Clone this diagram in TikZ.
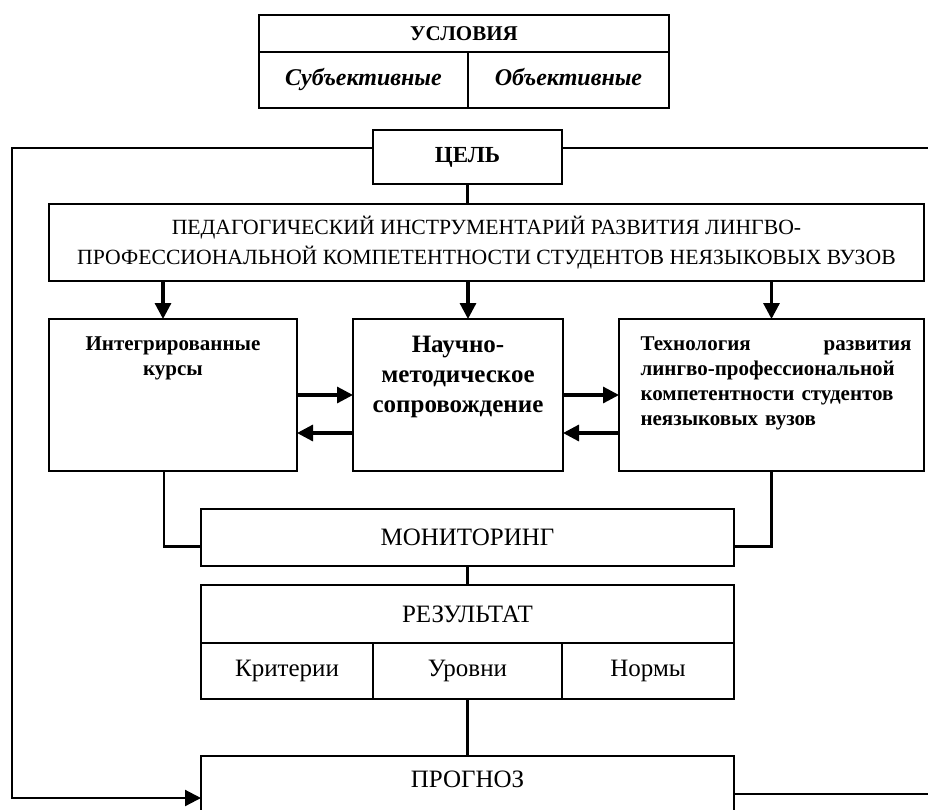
\documentclass[tikz,border=0pt]{standalone}
\usepackage{fontspec}
\setmainfont{Liberation Serif}
\usetikzlibrary{positioning, arrows.meta}

\begin{document}
\begin{tikzpicture}[x=1pt, y=-1pt, >={Triangle[length=16pt, width=16pt]}]
    \tikzstyle{block} = [draw, line width=2.6pt, inner sep=0pt, outer sep=0pt, anchor=north west]
    \tikzstyle{boldtext} = [font=\fontsize{21}{25}\selectfont\bfseries, align=center]
    \tikzstyle{slanttext} = [font=\fontsize{24}{25}\selectfont\bfseries\itshape, text height=17pt, text depth=6pt]
    \tikzstyle{normaltext} = [font=\fontsize{25}{30}\selectfont, align=center]
    \tikzstyle{link} = [draw, line width=2.2pt]
    \tikzstyle{flow} = [draw, ->, line width=3.2pt]
    \useasboundingbox (0,0) rectangle (928,809);

    % Conditions
    \node[block, boldtext, minimum width=410pt, minimum height=37pt] (cond) at (259,15) {УСЛОВИЯ};
    \node[block, slanttext, minimum width=209pt, minimum height=56pt] (subj) at (259,52) {Субъективные};
    \node[block, slanttext, minimum width=201pt, minimum height=56pt] (obj) at (468,52) {Объективные};

    % Goal and toolkit
    \node[block, boldtext, font=\fontsize{23}{25}\selectfont\bfseries, minimum width=189pt, minimum height=54pt] (goal) at (373,130) {ЦЕЛЬ};
    \node[block, normaltext, font=\fontsize{21.7}{30}\selectfont, minimum width=875pt, minimum height=77pt] (tool) at (49,204) {ПЕДАГОГИЧЕСКИЙ ИНСТРУМЕНТАРИЙ РАЗВИТИЯ ЛИНГВО-\\ПРОФЕССИОНАЛЬНОЙ КОМПЕТЕНТНОСТИ СТУДЕНТОВ НЕЯЗЫКОВЫХ ВУЗОВ};

    % Middle row
    \node[block, minimum width=248pt, minimum height=152pt] (courses) at (49,319) {};
    \node[block, minimum width=210pt, minimum height=152pt] (support) at (353,319) {};
    \node[block, minimum width=305pt, minimum height=152pt] (techno) at (619,319) {};
    \node[boldtext, below=14pt of courses.north] (coursestext) {Интегрированные\\курсы};
    \node[boldtext, font=\fontsize{25}{30}\selectfont\bfseries, below=14pt of support.north] (supporttext) {Научно-\\методическое\\сопровождение};
    \node[boldtext, align=left, text width=271pt, below right=14pt and 18pt of techno.north west] (technotext) {Технология\hfill развития\\лингво-профессиональной\\компетентности студентов\\неязыковых вузов};

    % Monitoring and result
    \node[block, normaltext, minimum width=533pt, minimum height=57pt] (monitor) at (201,509) {МОНИТОРИНГ};
    \node[block, normaltext, minimum width=533pt, minimum height=58pt] (result) at (201,585) {РЕЗУЛЬТАТ};
    \node[block, normaltext, minimum width=172pt, minimum height=56pt] (criteria) at (201,643) {Критерии};
    \node[block, normaltext, minimum width=189pt, minimum height=56pt] (levels) at (373,643) {Уровни};
    \node[block, normaltext, minimum width=172pt, minimum height=56pt] (norms) at (562,643) {Нормы};

    % Forecast
    \node[block, normaltext, minimum width=533pt, minimum height=80pt, text depth=34pt] (forecast) at (201,756) {ПРОГНОЗ};

    % Frame round the scheme
    \coordinate (tl) at (12,148);
    \coordinate (bl) at (12,798);
    \coordinate (tr) at (928,148);
    \coordinate (br) at (928,794);
    \path[link, ->] (goal.west |- tl) -- (tl) -- (bl) -- (forecast.west |- bl);
    \path[link] (goal.east |- tr) -- (tr);
    \path[link] (forecast.east |- br) -- (br);

    % Connectors
    \path[link] (goal.south) -- (goal.south |- tool.north);
    \path[flow] ([xshift=-10pt]courses.north |- tool.south) -- ([xshift=-10pt]courses.north);
    \path[flow] ([xshift=10pt]support.north |- tool.south) -- ([xshift=10pt]support.north);
    \path[flow] (techno.north |- tool.south) -- (techno.north);
    \path[flow] (courses.east) -- (support.west);
    \path[flow] ([yshift=-38pt]support.west) -- ([yshift=-38pt]courses.east);
    \path[flow] (support.east) -- (techno.west);
    \path[flow] ([yshift=-38pt]techno.west) -- ([yshift=-38pt]support.east);
    \path[link] ([xshift=-9pt]courses.south) |- ([yshift=-9pt]monitor.west);
    \path[link] (techno.south) |- ([yshift=-9pt]monitor.east);
    \path[link] (monitor) -- (result);
    \path[link] (levels) -- (forecast);
\end{tikzpicture}
\end{document}
